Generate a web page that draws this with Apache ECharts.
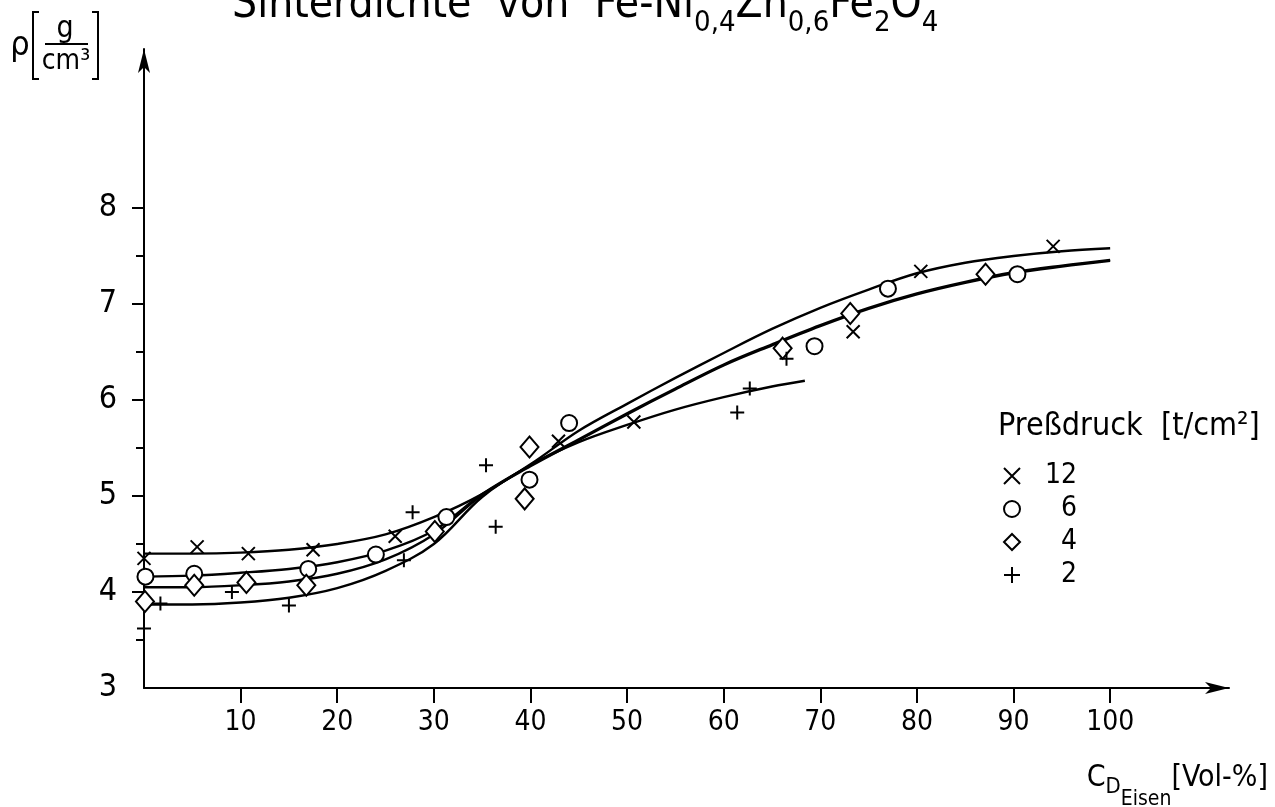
<!DOCTYPE html>
<html><head><meta charset="utf-8">
<script src="https://cdn.jsdelivr.net/npm/echarts@6/dist/echarts.min.js"></script>
<style>html,body{margin:0;padding:0;background:#fff}#c{width:1275px;height:807px}</style>
</head><body><div id="c"></div>
<script>
const FONT = "'Liberation Sans Narrow','DejaVu Sans Condensed','Roboto Condensed',sans-serif";

// Axis ticks / labels
const xTickValues = [10, 20, 30, 40, 50, 60, 70, 80, 90, 100];
const yTickValues = [4, 5, 6, 7, 8];
const yLabelValues = [3, 4, 5, 6, 7, 8];
const yMinorTickValues = [3.5, 4.5, 5.5, 6.5, 7.5];

const pressures = ['12', '6', '4', '2'];

// Measured points (x = Vol-% Fe, y = density g/cm3)
const x12 = [0, 5.5, 10.8, 17.5, 26.0, 42.9, 50.7, 73.4, 80.4, 94.1];
const y12 = [4.35, 4.47, 4.40, 4.44, 4.58, 5.57, 5.77, 6.71, 7.34, 7.60];
const x6 = [0.15, 5.2, 17.0, 24.0, 31.3, 39.9, 44.0, 69.4, 77.0, 90.4];
const y6 = [4.16, 4.19, 4.24, 4.39, 4.78, 5.17, 5.76, 6.56, 7.16, 7.31];
const x4 = [0.1, 5.2, 10.6, 16.8, 30.1, 39.4, 39.9, 66.1, 73.1, 87.1];
const y4 = [3.90, 4.07, 4.10, 4.07, 4.63, 4.97, 5.51, 6.54, 6.90, 7.31];
const x2 = [0, 1.7, 9.1, 15.0, 26.9, 27.8, 35.4, 36.4, 61.4, 62.7, 66.5];
const y2 = [3.62, 3.88, 4.00, 3.86, 4.33, 4.83, 5.32, 4.68, 5.87, 6.12, 6.43];

// Fitted curves
const cx12 = [0, 5, 10, 15, 20, 25, 30, 35, 40, 45, 50, 55, 60, 65, 70, 75, 80, 85, 90, 95, 100];
const cy12 = [4.40, 4.40, 4.41, 4.44, 4.50, 4.60, 4.78, 5.02, 5.33, 5.68, 5.96, 6.23, 6.49, 6.74, 6.96, 7.15, 7.32, 7.43, 7.50, 7.55, 7.58];
const cx6 = [0, 5, 10, 15, 20, 25, 30, 35, 40, 45, 50, 55, 60, 65, 70, 75, 80, 85, 90, 95, 100];
const cy6 = [4.16, 4.17, 4.20, 4.24, 4.31, 4.43, 4.64, 5.02, 5.32, 5.59, 5.86, 6.12, 6.37, 6.58, 6.78, 6.96, 7.11, 7.23, 7.33, 7.40, 7.46];
const cx4 = [0, 5, 10, 15, 20, 25, 30, 35, 40, 45, 50, 55, 60, 65, 70, 75, 80, 85, 90, 95, 100];
const cy4 = [4.05, 4.05, 4.07, 4.11, 4.19, 4.34, 4.60, 5.01, 5.31, 5.58, 5.85, 6.11, 6.36, 6.57, 6.77, 6.95, 7.10, 7.22, 7.32, 7.39, 7.45];
const cx2 = [0, 5, 10, 15, 20, 25, 30, 35, 40, 45, 50, 55, 60, 65, 68.4];
const cy2 = [3.87, 3.87, 3.89, 3.94, 4.04, 4.22, 4.50, 4.99, 5.32, 5.56, 5.74, 5.90, 6.03, 6.14, 6.20];

const zip = (a, b) => a.map((v, i) => [v, b[i]]);

const CROSS = 'path://M0,0L10,10M10,0L0,10';
const PLUS = 'path://M5,0L5,10M0,5L10,5';

function curve(name, xs, ys) {
  return { name: name, type: 'line', data: zip(xs, ys), smooth: 0.35, symbol: 'none', silent: true,
    lineStyle: { color: '#000', width: 2.4 }, z: 2 };
}
function pts(name, xs, ys, symbol, size, fill) {
  return { name: name, type: 'scatter', data: zip(xs, ys), symbol: symbol, symbolSize: size, silent: true,
    itemStyle: { color: fill, borderColor: '#000', borderWidth: 2, opacity: 1 }, z: 5 };
}

const chart = echarts.init(document.getElementById('c'), null, { renderer: 'canvas' });
chart.setOption({
  animation: false,
  backgroundColor: '#fff',
  textStyle: { fontFamily: FONT, color: '#000' },
  grid: { left: 144, right: 46, top: 49, bottom: 119, containLabel: false },
  xAxis: {
    type: 'value', min: 0, max: 112.3,
    axisLine: { show: true, symbol: ['none', 'arrow'], symbolSize: [9, 24], lineStyle: { color: '#000', width: 2 } },
    axisTick: { show: true, length: 15, customValues: xTickValues, lineStyle: { color: '#000', width: 2 } },
    axisLabel: { customValues: xTickValues, margin: 21, fontSize: 28, fontFamily: FONT, color: '#000' },
    splitLine: { show: false }
  },
  yAxis: [{
    type: 'value', min: 3, max: 9.656,
    axisLine: { show: true, symbol: ['none', 'arrow'], symbolSize: [9, 24], lineStyle: { color: '#000', width: 2 } },
    axisTick: { show: true, length: 12, customValues: yTickValues, lineStyle: { color: '#000', width: 2 } },
    axisLabel: { customValues: yLabelValues, margin: 27, fontSize: 32, fontFamily: FONT, color: '#000' },
    splitLine: { show: false }
  }, {
    type: 'value', min: 3, max: 9.656, position: 'left',
    axisLine: { show: false },
    axisTick: { show: true, length: 8, customValues: yMinorTickValues, lineStyle: { color: '#000', width: 2 } },
    axisLabel: { show: false },
    splitLine: { show: false }
  }],
  legend: {
    data: pressures, orient: 'vertical', left: 998, top: 455, itemWidth: 16, itemHeight: 16, itemGap: 1,
    selectedMode: false,
    formatter: n => '{n|' + n + '}',
    textStyle: { fontFamily: FONT, fontSize: 28, color: '#000', lineHeight: 32,
      rich: { n: { width: 52, align: 'right', fontSize: 28, fontFamily: FONT, color: '#000', lineHeight: 32 } } }
  },
  graphic: [
    { type: 'text', x: 232, y: 6, style: {
      text: '{m|Sinterdichte  von  Fe-Ni}{s|0,4}{m|Zn}{s|0,6}{m|Fe}{s|2}{m|O}{s|4}',
      textVerticalAlign: 'middle', fill: '#000',
      rich: { m: { fontSize: 44, fontFamily: FONT, fill: '#000' }, s: { fontSize: 29, fontFamily: FONT, padding: [34, 0, 0, 0], fill: '#000' } } } },
    { type: 'text', x: 20, y: 46, style: { text: 'ρ', font: '34px ' + FONT, fill: '#000', textAlign: 'center', textVerticalAlign: 'middle' } },
    { type: 'polyline', shape: { points: [[39, 12], [33, 12], [33, 79], [39, 79]] }, style: { stroke: '#000', lineWidth: 2, fill: 'none' } },
    { type: 'text', x: 65, y: 29, style: { text: 'g', font: '30px ' + FONT, fill: '#000', textAlign: 'center', textVerticalAlign: 'middle' } },
    { type: 'line', shape: { x1: 45, y1: 44, x2: 88, y2: 44 }, style: { stroke: '#000', lineWidth: 2 } },
    { type: 'text', x: 66, y: 62, style: { text: 'cm³', font: '28px ' + FONT, fill: '#000', textAlign: 'center', textVerticalAlign: 'middle' } },
    { type: 'polyline', shape: { points: [[92, 12], [98, 12], [98, 79], [92, 79]] }, style: { stroke: '#000', lineWidth: 2, fill: 'none' } },
    { type: 'text', x: 998, y: 427, style: { text: 'Preßdruck  [t/cm²]', font: '32px ' + FONT, fill: '#000', textAlign: 'left', textVerticalAlign: 'middle' } },
    { type: 'text', x: 1268, y: 778, style: {
      text: '{c|C}{d|D}{e|Eisen}{v|[Vol-%]}', textAlign: 'right', textVerticalAlign: 'middle', fill: '#000',
      rich: { c: { fontSize: 30, fontFamily: FONT }, d: { fontSize: 22, fontFamily: FONT, padding: [18, 0, 0, 0] },
        e: { fontSize: 21, fontFamily: FONT, padding: [43, 0, 0, 0] }, v: { fontSize: 30, fontFamily: FONT } } } }
  ],
  series: [
    curve('c12', cx12, cy12), curve('c6', cx6, cy6), curve('c4', cx4, cy4), curve('c2', cx2, cy2),
    pts('12', x12, y12, CROSS, 13, '#000'),
    pts('6', x6, y6, 'circle', 16, '#fff'),
    pts('4', x4, y4, 'diamond', [18, 21], '#fff'),
    pts('2', x2, y2, PLUS, 14, '#000')
  ]
});
</script></body></html>
